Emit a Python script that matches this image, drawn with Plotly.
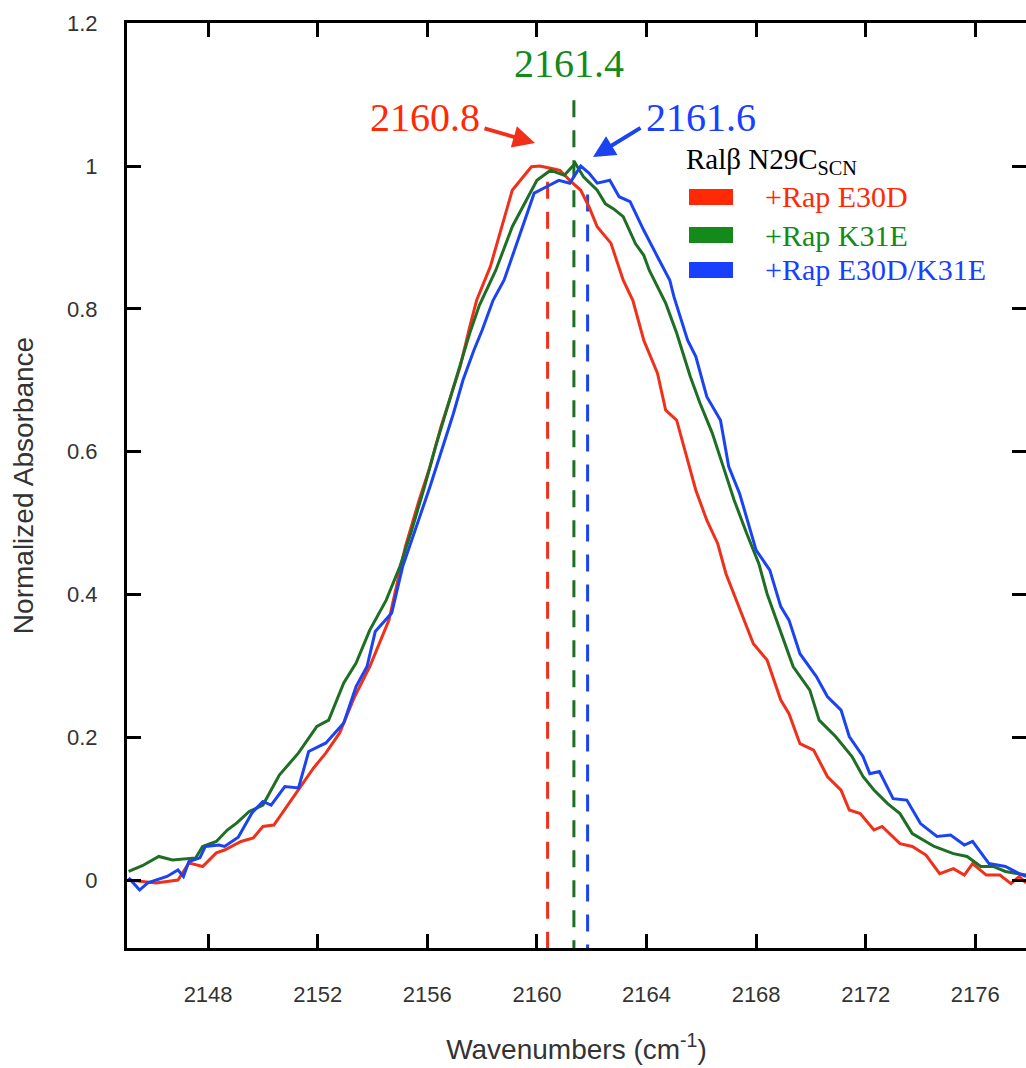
import plotly.graph_objects as go

# ---------------- data ----------------
red_x = [2145.1, 2146.1, 2146.9, 2147.3, 2147.8, 2148.3, 2148.6, 2149.2, 2149.65, 2150.0, 2150.4,
         2151.0, 2151.35, 2151.85, 2152.3, 2152.8, 2153.35, 2153.9, 2154.6, 2155.2, 2155.7, 2156.1,
         2156.5, 2157.2, 2157.55, 2157.8, 2158.3, 2158.77, 2159.1, 2159.8, 2160.1, 2160.5, 2160.84,
         2161.2, 2161.6, 2161.9, 2162.2, 2162.7, 2163.0, 2163.15, 2163.5, 2163.9, 2164.4, 2164.7,
         2165.1, 2165.5, 2165.8, 2166.2, 2166.6, 2166.9, 2167.2, 2167.5, 2167.9, 2168.4, 2168.9,
         2169.2, 2169.6, 2170.1, 2170.6, 2171.1, 2171.4, 2171.8, 2172.3, 2172.6, 2173.25, 2173.7,
         2174.2, 2174.7, 2175.2, 2175.6, 2175.9, 2176.4, 2176.9, 2177.3, 2177.6, 2177.85]
red_y = [0.000, -0.004, 0.000, 0.024, 0.019, 0.038, 0.042, 0.054, 0.059, 0.075, 0.077,
         0.110, 0.131, 0.157, 0.178, 0.206, 0.257, 0.299, 0.364, 0.467, 0.532, 0.579,
         0.635, 0.719, 0.775, 0.812, 0.859, 0.920, 0.966, 0.999, 1.000, 0.997, 0.994,
         0.980, 0.966, 0.943, 0.915, 0.892, 0.859, 0.840, 0.812, 0.756, 0.710, 0.658,
         0.644, 0.588, 0.546, 0.504, 0.471, 0.429, 0.400, 0.369, 0.331, 0.308, 0.252,
         0.233, 0.191, 0.182, 0.145, 0.126, 0.098, 0.093, 0.070, 0.075, 0.051, 0.047,
         0.035, 0.009, 0.016, 0.007, 0.023, 0.007, 0.007, -0.005, 0.005, -0.004]

green_x = [2145.1, 2145.6, 2146.2, 2146.7, 2147.55, 2147.8, 2148.3, 2148.7, 2149.05, 2149.5, 2150.0,
           2150.6, 2151.3, 2151.97, 2152.4, 2152.95, 2153.4, 2153.9, 2154.5, 2155.0, 2155.4, 2155.9,
           2156.3, 2156.7, 2157.2, 2157.55, 2157.9, 2158.5, 2159.1, 2160.0, 2160.5, 2161.0, 2161.4,
           2161.7, 2162.2, 2162.5, 2162.8, 2163.15, 2163.6, 2163.9, 2164.1, 2164.7, 2165.1, 2165.6,
           2165.95, 2166.4, 2166.8, 2167.2, 2167.65, 2167.9, 2168.1, 2168.4, 2168.9, 2169.35, 2169.96,
           2170.3, 2170.9, 2171.5, 2171.9, 2172.3, 2172.8, 2173.25, 2173.7, 2174.5, 2175.2, 2175.7,
           2176.2, 2176.65, 2177.1, 2177.85]
green_y = [0.012, 0.020, 0.033, 0.028, 0.031, 0.047, 0.054, 0.070, 0.080, 0.096, 0.105,
           0.147, 0.178, 0.215, 0.224, 0.276, 0.304, 0.350, 0.392, 0.439, 0.486, 0.551,
           0.607, 0.658, 0.719, 0.766, 0.805, 0.854, 0.915, 0.980, 0.994, 0.987, 1.004,
           0.985, 0.966, 0.947, 0.940, 0.929, 0.891, 0.875, 0.854, 0.808, 0.766, 0.705,
           0.668, 0.626, 0.579, 0.532, 0.486, 0.462, 0.443, 0.401, 0.346, 0.299, 0.266,
           0.224, 0.201, 0.173, 0.145, 0.126, 0.107, 0.093, 0.065, 0.047, 0.037, 0.033,
           0.019, 0.019, 0.012, 0.007]

blue_x = [2145.1, 2145.5, 2145.8, 2146.5, 2146.9, 2147.1, 2147.3, 2147.7, 2147.9, 2148.4, 2148.6,
          2149.1, 2149.6, 2150.0, 2150.3, 2150.8, 2151.3, 2151.67, 2152.3, 2152.95, 2153.4, 2153.8,
          2154.1, 2154.7, 2155.1, 2155.6, 2156.1, 2156.6, 2156.95, 2157.3, 2157.7, 2158.0, 2158.4,
          2158.8, 2159.4, 2159.9, 2160.35, 2160.8, 2161.2, 2161.6, 2161.9, 2162.2, 2162.66, 2163.0,
          2163.4, 2163.9, 2164.4, 2164.85, 2165.0, 2165.5, 2165.8, 2166.2, 2166.7, 2167.0, 2167.4,
          2167.8, 2168.0, 2168.5, 2168.9, 2169.2, 2169.6, 2170.2, 2170.6, 2171.1, 2171.4, 2171.9,
          2172.15, 2172.5, 2173.0, 2173.5, 2174.0, 2174.6, 2175.1, 2175.6, 2175.9, 2176.5, 2177.1,
          2177.6, 2177.85]
blue_y = [0.003, -0.014, -0.004, 0.005, 0.014, 0.005, 0.026, 0.031, 0.047, 0.049, 0.047,
          0.060, 0.094, 0.110, 0.105, 0.131, 0.129, 0.180, 0.192, 0.220, 0.271, 0.299,
          0.348, 0.374, 0.439, 0.495, 0.551, 0.611, 0.653, 0.700, 0.742, 0.770, 0.812,
          0.840, 0.906, 0.962, 0.971, 0.980, 0.976, 1.000, 0.990, 0.976, 0.980, 0.957,
          0.950, 0.910, 0.873, 0.840, 0.817, 0.756, 0.733, 0.677, 0.644, 0.579, 0.541,
          0.490, 0.462, 0.434, 0.383, 0.364, 0.317, 0.285, 0.257, 0.238, 0.201, 0.173,
          0.149, 0.152, 0.114, 0.112, 0.079, 0.061, 0.063, 0.049, 0.054, 0.023, 0.019,
          0.009, 0.005]

series_names = ["+Rap E30D", "+Rap K31E", "+Rap E30D/K31E"]
peak_labels = ["2160.8", "2161.4", "2161.6"]
peak_line_x = [2160.39, 2161.35, 2161.85]
peak_line_top = [0.978, 1.092, 0.96]
legend_title = "Ralβ N29C<sub>SCN</sub>"

x_ticks = [2148, 2152, 2156, 2160, 2164, 2168, 2172, 2176]
y_ticks = [0, 0.2, 0.4, 0.6, 0.8, 1.0, 1.2]
y_tick_text = ["0", "0.2", "0.4", "0.6", "0.8", "1", "1.2"]

X_RANGE = [2145.04, 2177.85]
Y_RANGE = [-0.0952, 1.2003]

# ---------------- style ----------------
line_colors = ["#f0301a", "#1e6e24", "#1a44f2"]
text_colors = ["#ff2a05", "#148a1a", "#1a40ff"]

W, H = 1026, 1068
ML, MR, MT, MB = 127, 0, 23, 120
PW, PH = W - ML - MR, H - MT - MB


def px2x(px):
    return X_RANGE[0] + (px - ML) / PW * (X_RANGE[1] - X_RANGE[0])


def py2y(py):
    return Y_RANGE[1] - (py - MT) / PH * (Y_RANGE[1] - Y_RANGE[0])


def ppx(px):
    return (px - ML) / PW


def ppy(py):
    return 1 - (py - MT) / PH


fig = go.Figure()

# dashed peak markers
for i in range(3):
    fig.add_trace(go.Scatter(
        x=[peak_line_x[i], peak_line_x[i]], y=[peak_line_top[i], Y_RANGE[0]],
        mode="lines", line=dict(color=line_colors[i], width=3, dash="17px,13px"),
        showlegend=False, hoverinfo="skip"))

for xs, ys, c, n in [(red_x, red_y, line_colors[0], series_names[0]),
                     (green_x, green_y, line_colors[1], series_names[1]),
                     (blue_x, blue_y, line_colors[2], series_names[2])]:
    fig.add_trace(go.Scatter(x=xs, y=ys, mode="lines", name=n,
                             line=dict(color=c, width=3), showlegend=False))

# invisible trace to activate the right-hand tick axis (ticks without a line)
fig.add_trace(go.Scatter(x=[peak_line_x[0]], y=[0], yaxis="y2", mode="markers",
                         marker=dict(opacity=0), showlegend=False, hoverinfo="skip"))

annotations = []
# peak value labels
label_pos = [(425, 117), (569, 63), (701, 117)]
for i in range(3):
    annotations.append(dict(
        x=px2x(label_pos[i][0]), y=py2y(label_pos[i][1]), xref="x", yref="y",
        text=peak_labels[i], showarrow=False, xanchor="center", yanchor="middle",
        font=dict(family="Liberation Serif", size=40, color=text_colors[i])))

# arrows
arrows = [((535, 143), (483, 128), line_colors[0]), ((593, 157), (642, 127), line_colors[2])]
for tip, tail, c in arrows:
    annotations.append(dict(
        x=px2x(tip[0]), y=py2y(tip[1]), ax=px2x(tail[0]), ay=py2y(tail[1]),
        xref="x", yref="y", axref="x", ayref="y", text="", showarrow=True,
        arrowhead=2, arrowsize=1.1, arrowwidth=4, arrowcolor=c, standoff=0))

# legend
annotations.append(dict(
    x=ppx(684), y=ppy(161), xref="paper", yref="paper", text=legend_title,
    showarrow=False, xanchor="left", yanchor="middle",
    font=dict(family="Liberation Serif", size=29, color="black")))
shapes = []
rows = [197, 235, 270]
for i in range(3):
    shapes.append(dict(type="rect", xref="paper", yref="paper",
                       x0=ppx(689), x1=ppx(733), y0=ppy(rows[i] + 8), y1=ppy(rows[i] - 8),
                       fillcolor=text_colors[i], line=dict(width=0)))
    annotations.append(dict(
        x=ppx(763), y=ppy(rows[i]), xref="paper", yref="paper", text=series_names[i],
        showarrow=False, xanchor="left", yanchor="middle",
        font=dict(family="Liberation Serif", size=30, color=text_colors[i])))

tick_font = dict(family="Liberation Sans", size=22, color="#333333")
title_font = dict(family="Liberation Sans", size=28, color="#333333")

fig.update_layout(
    width=W, height=H, margin=dict(l=ML, r=MR, t=MT, b=MB),
    paper_bgcolor="white", plot_bgcolor="white",
    xaxis=dict(range=X_RANGE, tickvals=x_ticks, ticklabelstandoff=25,
               showline=True, linecolor="black", linewidth=3, mirror="ticks",
               ticks="inside", ticklen=14, tickwidth=3, tickcolor="black",
               showgrid=False, zeroline=False, tickfont=tick_font,
               title=dict(text="Wavenumbers (cm<sup>-1</sup>)", standoff=33, font=title_font)),
    yaxis=dict(range=Y_RANGE, tickvals=y_ticks, ticktext=y_tick_text, ticklabelstandoff=22,
               showline=True, linecolor="black", linewidth=3, mirror=False,
               ticks="inside", ticklen=14, tickwidth=3, tickcolor="black",
               showgrid=False, zeroline=False, tickfont=tick_font,
               title=dict(text="Normalized Absorbance", standoff=26, font=title_font)),
    yaxis2=dict(range=Y_RANGE, tickvals=y_ticks, overlaying="y", side="right",
                showline=False, ticks="inside", ticklen=14, tickwidth=3, tickcolor="black",
                showticklabels=False, showgrid=False, zeroline=False),
    annotations=annotations, shapes=shapes, showlegend=False,
)

fig.write_html("out.html")
